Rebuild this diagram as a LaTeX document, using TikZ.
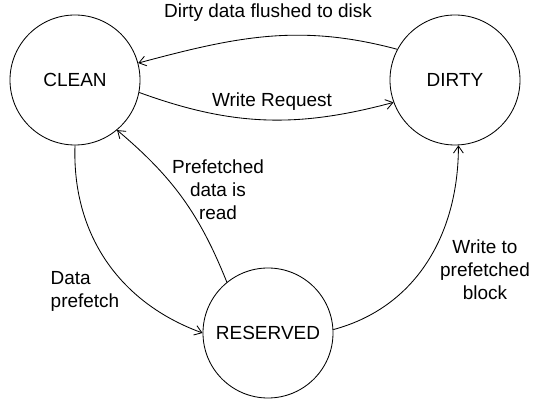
\documentclass[tikz,border=0pt]{standalone}
\usepackage{fontspec}
\setmainfont{Liberation Sans}
\usetikzlibrary{positioning, arrows.meta}

\begin{document}
\begin{tikzpicture}[
  state/.style={draw, circle, line width=0.6pt, minimum size=3.25cm, inner sep=0pt},
  trans/.style={line width=0.6pt, -{Straight Barb[length=5pt, width=7pt]}},
  lbl/.style={align=center, inner sep=0pt},
  every node/.style={font=\fontsize{13.5}{16.4}\selectfont},
]
  \useasboundingbox (0,0) rectangle (13.325,-10.05);

  % states
  \node[state] (clean)    at (1.875,-2.0)  {CLEAN};
  \node[state] (dirty)    at (11.375,-2.0) {DIRTY};
  \node[state] (reserved) at (6.7,-8.325)  {RESERVED};

  % transitions
  \draw[trans] (dirty.152) to[out=165, in=15] (clean.15);
  \draw[trans] (clean.-11) to[out=-20, in=195] (dirty.200);
  \draw[trans] (clean.-90) to[out=-92, in=160] (reserved.180);
  \draw[trans] (reserved.129) to[bend right=14] (clean.-50);
  \draw[trans] (reserved.3) to[out=15, in=-90] (dirty.-87);

  % labels
  \node[lbl] (flushlbl)    at (6.7,-0.325)   {Dirty data flushed to disk};
  \node[lbl] (writelbl)    at (6.8,-2.55)    {Write Request};
  \node[lbl] (readlbl)     at (5.45,-4.75)   {Prefetched\\data is\\read};
  \node[lbl, align=left] (prefetchlbl) at (2.125,-7.275) {Data\\prefetch};
  \node[lbl] (blocklbl)    at (12.125,-6.75) {Write to\\prefetched\\block};
\end{tikzpicture}
\end{document}
